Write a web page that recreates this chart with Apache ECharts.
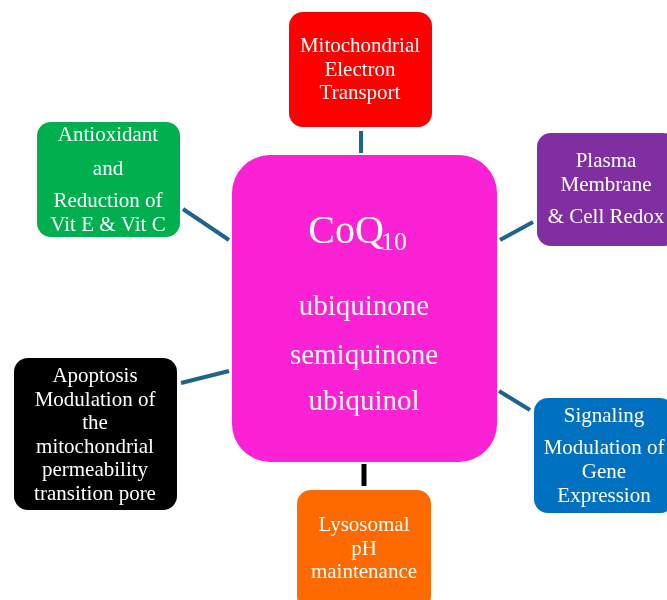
<!DOCTYPE html>
<html><head><meta charset="utf-8">
<script src="https://cdn.jsdelivr.net/npm/echarts@6/dist/echarts.min.js"></script>
<style>html,body{margin:0;padding:0;background:#fff}#c{width:667px;height:600px}</style>
</head><body><div id="c"></div>
<script>
// ---- content (text) ----
var boxNames = ['center','red','green','purple','black','blue','orange'];
var boxLines = [
  ['ubiquinone','semiquinone','ubiquinol'],
  ['Mitochondrial','Electron','Transport'],
  ['Antioxidant','and','Reduction of','Vit E & Vit C'],
  ['Plasma','Membrane','& Cell Redox'],
  ['Apoptosis','Modulation of','the','mitochondrial','permeability','transition pore'],
  ['Signaling','Modulation of','Gene','Expression'],
  ['Lysosomal','pH','maintenance']
];
var titleMain = 'CoQ';
var titleSub = '10';
// connections: from center to each surrounding box
var links = [['center','red'],['center','green'],['center','purple'],['center','black'],['center','blue'],['center','orange']];

// ---- layout & style (kept separate from content) ----
var boxColors = ['#fa22d4','#ff0000','#00b04f','#7f2fa0','#000000','#0070c0','#ff6a00'];
// [x, y, w, h, radius]
var boxRects = [
  [232,155,265,307,38],
  [289,12,143,115,14],
  [37,122,143,115,14],
  [537,133,140,113,14],
  [14,358,163,152,14],
  [534,398,140,115,14],
  [297,490,134,120,14]
];
var textCenterX = [364,360,108,606,95,604,364];
var lineYs = [
  [307,356,402],
  [46,70,93],
  [135,169,201,225],
  [161,185,217],
  [376,400,423,447,470,494],
  [416,448,472,496],
  [525,549,572]
];
var fontSizes = [29,21,21,21,21,21,21];
// link segments [x1,y1,x2,y2,color,width]
var linkSegs = [
  [361,131,361,153,'#1f6391',4],
  [183,209,229,240,'#1f6391',4],
  [500,240,533,222,'#1f6391',4],
  [181,383,229,371,'#1f6391',4],
  [499,391,530,410,'#1f6391',4],
  [364,464,364,486,'#000000',5]
];
var FONT = '"Liberation Serif", "Times New Roman", serif';

var chart = echarts.init(document.getElementById('c'), null, {renderer:'canvas'});
chart.setOption({
  animation:false,
  grid:{left:0,right:0,top:0,bottom:0},
  xAxis:{type:'value',min:0,max:667,show:false},
  yAxis:{type:'value',min:0,max:600,inverse:true,show:false},
  series:[
    {
      type:'custom',
      coordinateSystem:'cartesian2d',
      data: links.map(function(l,i){return [i];}),
      renderItem:function(params,api){
        var s = linkSegs[params.dataIndex];
        var p1 = api.coord([s[0],s[1]]), p2 = api.coord([s[2],s[3]]);
        return {type:'line',shape:{x1:p1[0],y1:p1[1],x2:p2[0],y2:p2[1]},style:{stroke:s[4],lineWidth:s[5]}};
      }
    },
    {
      type:'custom',
      coordinateSystem:'cartesian2d',
      data: boxNames.map(function(n,i){return [i];}),
      renderItem:function(params,api){
        var i = params.dataIndex;
        var r = boxRects[i];
        var p = api.coord([r[0],r[1]]);
        var q = api.coord([r[0]+r[2],r[1]+r[3]]);
        var children = [{type:'rect',shape:{x:p[0],y:p[1],width:q[0]-p[0],height:q[1]-p[1],r:r[4]},style:{fill:boxColors[i]}}];
        boxLines[i].forEach(function(t,k){
          var c = api.coord([textCenterX[i], lineYs[i][k]]);
          children.push({type:'text',style:{text:t,x:c[0],y:c[1],fill:'#ffffff',font:fontSizes[i]+'px '+FONT,textAlign:'center',textVerticalAlign:'middle'}});
        });
        if(i===0){
          var c1 = api.coord([346,232]);
          var c2 = api.coord([381,243]);
          children.push({type:'text',style:{text:titleMain,x:c1[0],y:c1[1],fill:'#ffffff',font:'40px '+FONT,textAlign:'center',textVerticalAlign:'middle'}});
          children.push({type:'text',style:{text:titleSub,x:c2[0],y:c2[1],fill:'#ffffff',font:'26px '+FONT,textAlign:'left',textVerticalAlign:'middle'}});
        }
        return {type:'group',children:children};
      }
    }
  ]
});
</script></body></html>
